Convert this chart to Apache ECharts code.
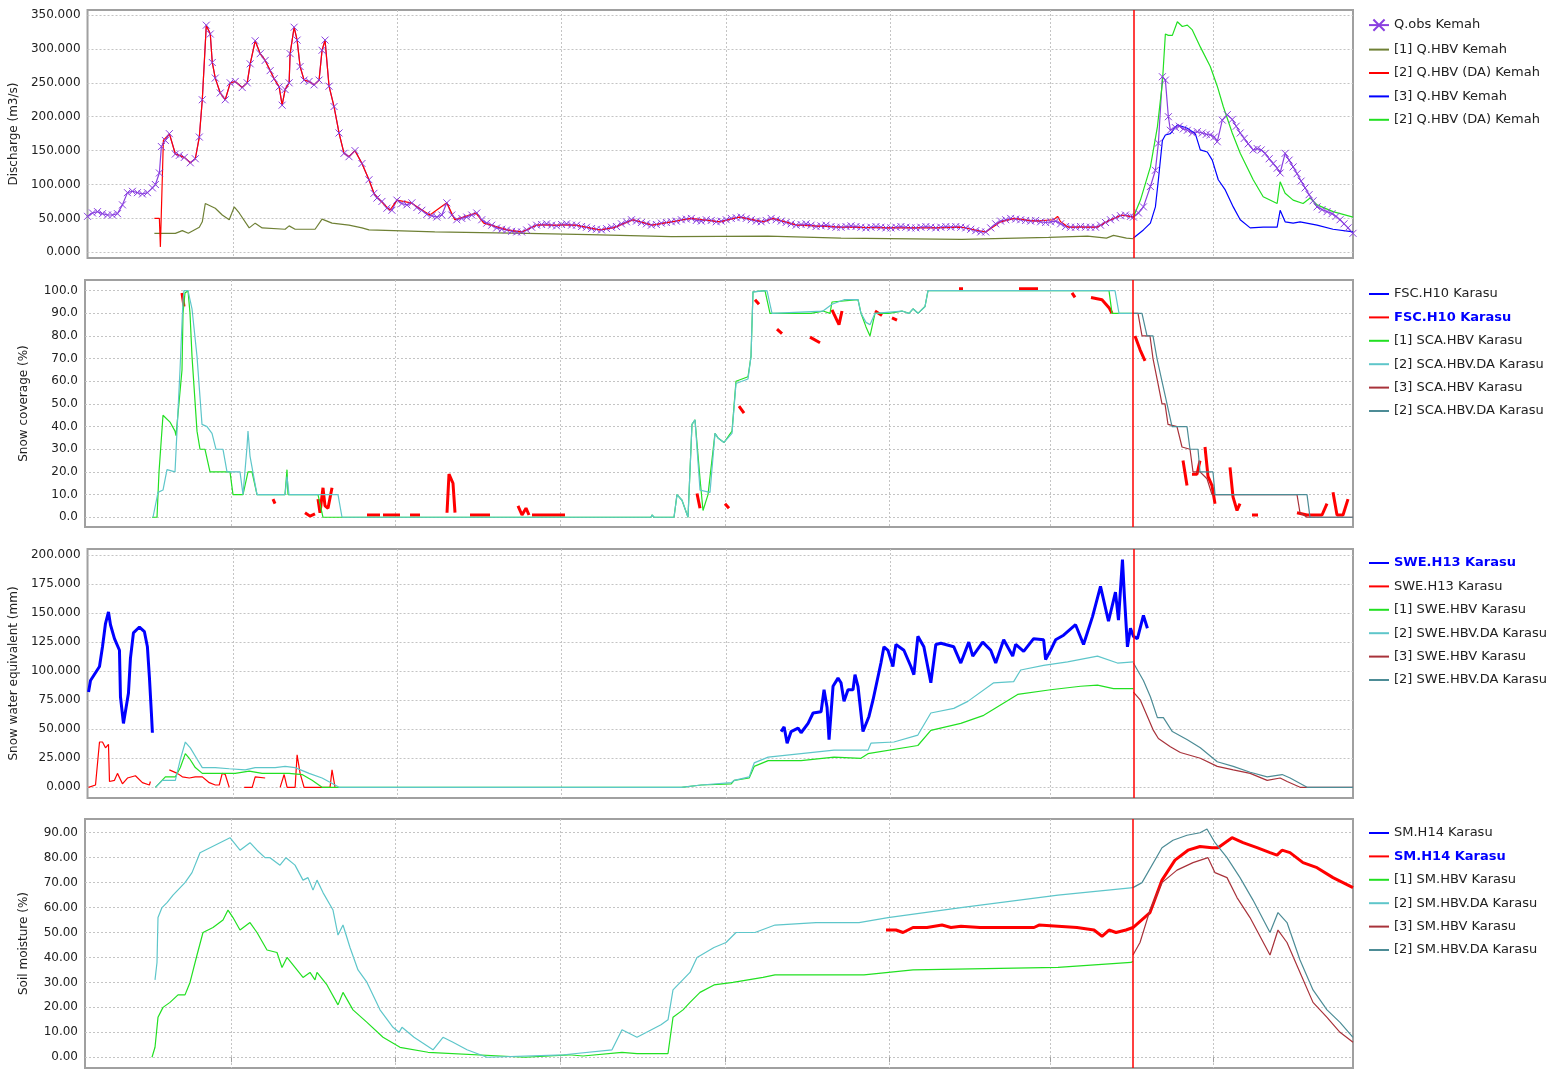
<!DOCTYPE html>
<html>
<head>
<meta charset="utf-8">
<script src="https://cdn.jsdelivr.net/npm/echarts@6/dist/echarts.min.js"></script>
<style>
html, body { margin: 0; padding: 0; background: #fff; }
#chart { width: 1550px; height: 1073px; }
</style>
</head>
<body>
<div id="chart"></div>
<script>
// time axis: day index of the season, month boundaries and forecast start
var dayMin = 17, dayMax = 270.6;
var monthTicks = [46.2, 79, 112, 145, 177.8, 210, 242.6];
var forecastDay = 226.6;

// ---- panel 1 : discharge (m3/s) ----
var qObs = [[17,53],[18,58],[19,60],[20,57],[21,55],[22,55],[23,57],[24,70],[25,88],[26,90],[27,88],[28,86],[29,88],[30,95],[30.6,100],[31.4,117],[31.8,156],[32.6,165],[33.4,175],[34.6,145],[35.4,143],[36.4,140],[37.6,132],[38.6,138],[39.4,170],[40,225],[40.8,335],[41.6,322],[42,280],[42.6,257],[43.6,235],[44.6,225],[45.6,250],[46.6,252],[48,243],[49,250],[49.6,278],[50.6,312],[51.6,293],[52.6,283],[53.6,268],[54.4,256],[55.4,244],[56,217],[56.6,240],[57.4,250],[57.6,293],[58.4,332],[59,313],[59.6,274],[60.4,254],[61.4,252],[62.4,247],[63.4,254],[64,298],[64.6,313],[65.4,245],[66.4,215],[67.4,176],[68.4,146],[69.4,141],[70.6,150],[72,131],[73.4,107],[74.4,87],[75,80],
  [76,75],[77,65],[78,62],[79,77],[80,72],[81,70],[82,73],[83,66],[84,62],[85,56],[86,54],[87,52],[88,55],[89,73],[90,55],[91,48],[92,50],[93,52],[94,55],[95,58],[96,48],[97,43],[98,40],[99,36],[100,34],[101,33],[102,31],[103,30],[104,30],[105,33],[106,37],[107,40],[108,41],[109,42],[110,40],[111,39],[112,41],[113,42],[114,40],[115,40],[116,38],[117,37],[118,35],[119,34],[120,33],[121,35],[122,37],[123,38],[124,42],[125,45],[126,48],[127,46],[128,44],[129,42],[130,40],[131,41],[132,43],[133,44],[134,45],[135,46],[136,48],[137,49],[138,50],[139,47],[140,46],[141,48],[142,47],[143,45],[144,46],[145,48],[146,50],[147,51],[148,52],[149,50],[150,48],[151,46],[152,45],[153,47],[154,50],[155,48],[156,46],[157,44],[158,42],[159,40],[160,41],[161,42],[162,40],[163,38],[164,39],[165,40],[166,38],[167,37],[168,37],[169,38],[170,39],[171,38],[172,37],[173,36],[174,37],[175,38],[176,37],[177,36],[178,36],[179,37],[180,38],[181,37],[182,36],[183,36],[184,37],[185,38],[186,37],[187,36],[188,37],[189,38],[190,37],[191,38],[192,37],[193,36],[194,34],[195,32],[196,30],[197,30],[198,36],[199,42],[200,46],[201,48],[202,50],[203,49],[204,48],[205,47],[206,46],[207,47],[208,45],[209,44],[210,45],[211,46],[212,42],[213,38],[214,37],[215,37],[216,38],[217,37],[218,37],[219,37],[220,40],[221,44],[222,48],[223,51],[224,54],[225,55],[226,53],
  [226.6,52],[227.6,58],[228.6,67],[230,97],[231,121],[231.6,161],[232.4,259],[233,254],[233.6,200],[234,180],[235,184],[235.8,186],[236.6,182],[237.4,180],[238.4,176],[239.4,178],[240.4,176],[241.2,174],[242,173],[242.8,170],[243.4,163],[244.4,195],[245.4,203],[246.4,196],[247.2,186],[248,176],[248.8,168],[249.6,160],[250.6,151],[251.4,153],[252.2,151],[253,146],[253.8,138],[254.6,131],[255.4,124],[256,117],[257,146],[257.8,136],[258.6,126],[259.4,116],[260.2,105],[261,95],[261.8,85],[262.6,76],[263.4,67],[264.4,63],[265.4,60],[266.4,57],[267.2,53],[268,48],[268.8,42],[269.6,36],[270.6,28]];
var qHbv1 = [[30.4,28],[34.6,28],[36,32],[37.2,28],[39.4,37],[40,45],[40.6,72],[42.6,65],[44,55],[45.4,48],[46.4,67],[47.4,58],[49.4,36],[50.6,43],[52,36],[56.6,34],[57.4,39],[58.6,34],[62.6,34],[64,49],[66,43],[69.4,40],[72,36],[73.4,33],[86.6,30],[105,28],[117.6,26],[134,23],[153.4,24],[168,21],[192.2,19],[209.6,22],[217.4,24],[221.2,21],[222.6,25],[225.2,21],[226.6,20]];
var qHbvDa = [[30.4,50],[31.4,50],[31.6,8],[32.2,165],[33.4,175],[34.6,145],[36.4,140],[37.6,132],[38.6,138],[39.4,170],[40,225],[40.8,335],[41.6,322],[42,280],[42.6,257],[43.6,235],[44.6,225],[45.6,250],[46.6,252],[48,243],[49,250],[49.6,278],[50.6,312],[51.6,293],[52.6,283],[53.6,268],[54.4,256],[55.4,244],[56,217],[56.6,240],[57.4,250],[57.6,293],[58.4,332],[59,313],[59.6,274],[60.4,254],[61.4,252],[62.4,247],[63.4,254],[64,298],[64.6,313],[65.4,245],[66.4,215],[67.4,176],[68.4,146],[69.4,141],[70.6,150],[72,131],[73.4,107],[74.4,87],[75.6,77],[77.6,62],[79,77],[81.8,73],[85.6,55],[89,73],[90.6,48],[94.8,58],[96.4,43],[101.2,33],[104,30],[107,40],[114.8,40],[119.6,33],[122.4,36],[126.4,48],[130.2,40],[134,45],[138,50],[143.8,45],[147.6,52],[152.6,45],[154.4,50],[159.2,40],[168,37],[177.6,36],[187.4,36],[192.2,37],[197,30],[200,45],[202.8,50],[206.8,46],[210.6,48],[211.4,53],[212,45],[213.6,37],[219.4,37],[221.2,45],[224.2,55],[226.6,52]];
var qHbv3 = [[226.6,21],[228.6,33],[230,43],[231,67],[231.6,107],[232.4,165],[233,173],[234,175],[235.4,188],[237.4,183],[239,175],[240,151],[241.4,148],[242.4,136],[243.6,107],[245,92],[246.6,67],[248,48],[250,36],[252.6,37],[255.4,37],[256,62],[257,45],[258.6,43],[260,45],[263.4,40],[266.6,34],[270.6,30]];
var qHbvDa2 = [[226.6,52],[228,77],[230,126],[231.4,185],[232.4,250],[233,322],[233.6,320],[234.4,320],[235.4,340],[236.4,333],[237.4,335],[238.4,328],[240,303],[242,274],[243.4,245],[244.6,215],[246.4,176],[248,146],[250.6,107],[252.6,82],[255.4,72],[256,104],[257,87],[258.6,77],[260.6,72],[262,80],[263.4,70],[266.6,60],[270.6,52]];

// ---- panel 2 : snow coverage (%) ----
var fscObs = [
  [[36.4,99],[36.8,93]],
  [[54.6,8],[55,6]],
  [[61,2],[62,0.5],[63,1.5]],
  [[63.6,8],[64,2],[64.6,13],[65,5],[65.6,4],[66.4,13]],
  [[73.4,1],[76,1]], [[76.6,1],[80,1]], [[82,1],[84,1]],
  [[89.4,2],[89.8,19],[90.6,15],[91,2]],
  [[94,1],[98,1]],
  [[103.6,5],[104.4,1],[105.2,4],[105.8,1]],
  [[106.4,1],[113,1]],
  [[139.4,10.5],[140,4]],
  [[145,6],[145.8,4]],
  [[147.8,49],[148.8,46]],
  [[151,96],[151.8,94]],
  [[155.4,83],[156.4,81]],
  [[162,79.5],[164,77]],
  [[166.4,91.5],[167.8,85],[168.4,91]],
  [[175,91],[176.4,89]],
  [[178.4,88],[179.4,87]],
  [[191.8,100.8],[192.6,100.8]],
  [[203.8,100.8],[207.6,100.8]],
  [[214.4,99],[215,97]],
  [[218.2,97],[220.4,96],[221.8,92.5],[222.4,90]],
  [[227,80],[228,74],[229,69]],
  [[236.6,25],[237.4,14]],
  [[238.4,19],[239.4,19],[240,25]],
  [[241,31],[241.6,18],[242.4,14],[243,6]],
  [[246,22],[246.6,9],[247.4,3],[248,6]],
  [[250.4,1],[251.6,1]],
  [[259.4,2],[261.4,1],[264.4,1],[265.4,6]],
  [[266.6,11],[267.4,1],[268.6,1],[269.6,8]]
];
var sca1 = [[30.4,0],[31.4,0],[31.8,20],[32.6,45],[34,42],[35,38],[35.2,36],[36.4,65],[36.6,90],[37,99],[37.6,100],[38,90],[38.4,71],[39.4,38],[40,30],[41,30],[42,20],[46,20],[46.6,10],[48.6,10],[49.6,20],[50.4,20],[51.4,10],[57,10],[57.4,21],[57.6,10],[63.6,10],[64.6,0],[130.2,0],[130.4,1],[130.8,0],[134.8,0],[135.4,10],[136.4,7.5],[137.6,0],[138,0],[138.4,41],[139,43],[140,17],[140.6,3],[141.6,10],[143,37],[143.6,35],[144.8,33],[146.4,38],[147.2,60],[149.6,62],[150.2,71],[150.6,99.5],[153,100],[154,90],[162.2,90],[164.6,91],[166,90],[166.4,95],[171.6,96],[172.2,90],[173.2,84],[174,80],[175,90],[177.8,90],[180.4,91],[181.8,90],[182.6,92],[183.6,90],[185,93],[185.6,100],[221.8,100],[222.4,90],[226.6,90]];
var sca2 = [[30.6,0],[31.6,11],[32.6,12],[33.4,21],[35,20],[35.4,38],[36,65],[36.6,96],[36.8,100],[37.6,100],[38.4,92],[39.4,71],[40.4,41],[41.4,40],[42.4,37],[43.2,30],[44.6,30],[45.4,20],[48,20],[48.6,10],[49,10],[49.4,31],[49.6,38],[50,27],[51.4,10],[57,10],[57.4,18],[57.8,10],[67.6,10],[68.4,0],[130.2,0],[130.4,1],[130.8,0],[134.8,0],[135.4,10],[136.4,7.5],[137.6,0],[138,0],[138.4,41],[139,43],[140,12],[142,11],[143,37],[143.6,35],[144.8,33],[146.4,37],[147.2,59],[149.6,61],[150.2,71],[150.6,99.5],[153.4,100],[154.4,90],[164.6,91],[166.4,94],[168.8,96],[171.6,96],[172.2,90],[173.2,86],[174,85],[175,90],[180.4,91],[181.8,90],[182.6,92],[183.6,90],[185,93],[185.6,100],[223,100],[223.8,90],[226.6,90]];
var sca3 = [[226.6,90],[227.6,90],[228.4,80],[230,80],[230.6,70],[231.6,59],[232.4,50],[233,50],[233.6,41],[235.4,40],[236.4,31],[238,30],[238.6,20],[240,20],[241.4,17],[242.4,10],[259.4,10],[260,2],[261.4,0],[270.6,0]];
var sca2b = [[226.6,90],[228.4,90],[229.4,80],[230.6,80],[231.4,70],[232.4,60],[233.4,50],[234.4,40],[237.4,40],[238,30],[239.6,30],[240,20],[242.6,20],[243,10],[261.4,10],[262,0],[270.6,0]];

// ---- panel 3 : snow water equivalent (mm) ----
var sweObs = [
  [[17.2,82],[17.6,92],[19.4,104],[20,121],[20.6,141],[21.2,151],[21.6,140],[22.4,128],[23.4,118],[23.6,78],[24.2,55],[24.6,55],[25.2,81],[25.6,111],[26.2,133],[27.4,138],[28.4,134],[29,121],[29.4,95],[29.8,64],[30,47]],
  [[156,48],[156.6,52],[157.2,38],[158,48],[159.4,51],[160,47],[161.4,55],[162.4,64],[164,65],[164.6,84],[165.2,69],[165.6,41],[166.4,87],[167.4,94],[168,90],[168.6,74],[169.4,84],[170.4,84],[170.8,97],[171.4,87],[172.4,48],[173.6,61],[174.4,75],[176,107],[176.6,121],[177.4,118],[178.4,104],[179,123],[180.6,118],[182,104],[182.6,97],[183.4,130],[184.6,121],[186,90],[187,123],[188,124],[190.6,121],[192,107],[193.6,125],[194.4,113],[196.4,125],[198,118],[199,107],[200.6,127],[202.4,113],[203,123],[204.6,117],[206.6,128],[208.6,127],[209,110],[210,118],[211,127],[212.6,131],[215,140],[216.6,123],[218.4,147],[220,173],[221.6,143],[223,168],[223.6,144],[224.4,196],[224.8,164],[225.4,121],[226,137],[226.6,130],[227.4,128],[228.6,148],[229.4,137]]
];
var sweObs2 = [
  [[17.2,0],[18.6,2],[19.4,39],[20,39],[20.6,34],[21.2,37],[21.4,5],[22.4,6],[23,12],[24,3],[25,8],[26.6,10],[28,4],[29.4,2],[29.6,5]],
  [[33.4,15],[35,12],[36,9],[37.4,8],[38.6,9],[40,9],[41.4,4],[42.6,2],[43.4,2],[44,12],[44.6,11],[45.4,0]],
  [[48.4,0],[50,0],[50.6,9],[52.6,8]],
  [[55.6,0],[56.4,11],[57,0],[58.6,0],[59,28],[59.6,12],[60.4,0],[65.6,0],[66,15],[66.6,0]]
];
var swe1 = [[30.6,0],[32.6,9],[34.6,9],[35.6,17],[36.6,29],[37.4,25],[38.6,17],[40,12],[42.6,12],[46.6,12],[49.4,14],[52,12],[57.4,12],[60,11],[62,6],[64,0],[136,0],[140,2],[146,3],[146.6,6],[149.6,8],[150.6,18],[153.4,23],[160,23],[166.6,26],[172,25],[173.4,29],[183.4,36],[186,49],[192,55],[196.6,62],[203.4,80],[210,84],[216,87],[219.4,88],[222.6,85],[226.6,85]];
var swe2 = [[30.6,0],[32,6],[34.6,6],[35.6,24],[36.6,39],[37.6,34],[39,24],[40,17],[42.6,17],[45.4,16],[48.6,15],[50.6,17],[54.6,17],[56.6,18],[58.6,17],[61.4,12],[64,8],[66.6,2],[67.4,0],[136,0],[140,2],[146,4],[146.6,6],[149.6,9],[150.6,21],[153.4,26],[160,29],[166.6,32],[173.4,32],[174,38],[178.6,39],[183.4,45],[186,64],[190.6,68],[193.4,74],[198.6,90],[202.6,91],[204,101],[208.6,105],[213.4,108],[219.4,113],[223.4,107],[226.6,108]];
var swe3 = [[226.6,82],[228,75],[229.4,61],[230.6,49],[231.6,42],[234,35],[236,30],[240,25],[243.4,18],[246.6,15],[250,12],[253.4,6],[256,8],[257.4,5],[260,0],[270.6,0]];
var swe2b = [[226.6,107],[228.6,92],[230,78],[231.4,60],[232.6,60],[234.4,48],[237.4,41],[240,34],[243.4,22],[246.6,18],[250,13],[253.4,9],[256.4,11],[258,8],[261.4,0],[270.6,0]];

// ---- panel 4 : soil moisture (%) ----
var smObs = [[177.2,51],[179.2,51],[180.6,50],[182.6,52],[185.4,52],[188.4,53],[190.2,52],[192.2,52.5],[196,52],[198,52],[201,52],[206.8,52],[207.8,53],[211.6,52.5],[215.4,52],[218.8,51],[220.4,48.5],[221.8,51],[223.2,50],[225.2,51],[226.6,52],[230,58],[232.4,71],[235,79],[237.6,83],[240,84.5],[242.4,84],[243.6,84],[246.4,88],[248.6,86],[251.4,84],[254,82],[255.4,81],[256.4,83],[258,82],[260.6,78],[263.4,76],[266.6,72],[270.6,68]];
var sm1 = [[30.4,0],[31,4],[31.6,16],[32.6,20],[34,22],[35.6,25],[37,25],[38,30],[39.4,41],[40.6,50],[42.6,52],[44.6,55],[45.6,59],[46.6,56],[48,51],[50,54],[51.4,50],[53.4,43],[55.4,42],[56.4,36],[57.4,40],[58.6,37],[60.6,32],[62,34],[63,31],[63.4,34],[65.4,29],[67.6,21],[68.6,26],[70.6,19],[73.4,14],[76.6,8],[80,4],[85.6,2],[105,0],[113.8,1],[116.6,0.5],[124.4,2],[127.4,1.5],[133.6,1.5],[134.6,16],[136.6,19],[138,22],[140,26],[142.8,29],[146.6,30],[152.6,32],[155,33],[172.8,33],[182.6,35],[211.6,36],[226.2,38],[226.6,38.5]];
var sm2 = [[31,31],[31.4,38],[31.6,56],[32.4,60],[33.4,62],[34.6,65],[37,70],[38.4,74],[40,82],[42,84],[44,86],[46,88],[48,83],[50,86],[51.4,83],[53,80],[54,80],[56,77],[57.2,80],[59,77],[60.6,71],[61.6,72],[62.6,67],[63.4,71],[64.6,66],[66.6,59],[67.6,49],[68.6,53],[70,44],[71.6,35],[73.4,30],[76,19],[78.6,12],[79.8,10],[80.4,12],[82.8,8],[86.6,3],[88.6,8],[90.6,6],[93.4,3],[97.4,0],[112.8,1],[122.4,3],[124.4,11],[127.4,8],[132.2,13],[133.6,15],[134.6,27],[138,34],[139.4,40],[142.8,44],[145.2,46],[147.2,50],[151,50],[155,53],[163.2,54],[171.8,54],[177.6,56],[192.2,60],[211.6,65],[226.6,68]];
var sm3 = [[226.6,41],[228,46],[230,59],[232.4,70],[235.4,75],[238.6,78],[241.6,80],[243,74],[245.4,72],[247.4,64],[250,56],[254,41],[255.6,51],[257.4,46],[260,34],[262.6,22],[265.4,16],[268,10],[270.6,6]];
var sm2b = [[226.6,68],[228.4,70],[232.4,84],[234.6,87],[237.4,89],[240,90],[241.4,91.5],[243,86],[245.4,80],[248,72],[250.6,63],[254,50],[255.6,58],[257.4,54],[260,39],[262.6,27],[265.4,19],[268,14],[270.6,8]];

// y axes: range, tick labels, decimals
var yNames = ['Discharge (m3/s)', 'Snow coverage (%)', 'Snow water equivalent (mm)', 'Soil moisture (%)'];
var yMin = [-8.4, -4.3, -9.2, -4.3];
var yMax = [357.4, 104.7, 205.2, 95.5];
var yTicks = [
  [0, 50, 100, 150, 200, 250, 300, 350],
  [0, 10, 20, 30, 40, 50, 60, 70, 80, 90, 100],
  [0, 25, 50, 75, 100, 125, 150, 175, 200],
  [0, 10, 20, 30, 40, 50, 60, 70, 80, 90]
];
var yDecimals = [3, 1, 3, 2];

var dom = document.getElementById('chart');
var chart = echarts.init(dom);
var font = 'DejaVu Sans';
var gridTops = [10, 280, 549, 819];
var gridHeights = [248, 247, 249, 249];
var legendTops = [17, 287, 556, 826];

var PURPLE = '#8a3fe0', OLIVE = '#6f8035', RED = '#ff0000', BLUE = '#0000ff',
    GREEN = '#22e022', CYAN = '#5ec6ca', DARKRED = '#a8323a', TEAL = '#4d8c96';

function joinSegs(segs) {
  var out = [];
  segs.forEach(function (s, i) {
    if (i > 0) out.push([s[0][0], '-']);
    out = out.concat(s);
  });
  return out;
}

function line(name, data, color, gi, width) {
  return {
    name: name, type: 'line', xAxisIndex: gi, yAxisIndex: gi,
    data: data, symbol: 'none', connectNulls: false,
    lineStyle: { color: color, width: width || 1.2 },
    itemStyle: { color: color },
    animation: false
  };
}

function redLine(s) {
  s.markLine = {
    silent: true, symbol: 'none', animation: false,
    label: { show: false },
    lineStyle: { color: RED, width: 1.5, type: 'solid' },
    data: [{ xAxis: forecastDay }]
  };
  return s;
}

var Z = '\u200b'; // keeps duplicated legend names apart

var qObsSeries = line('Q.obs Kemah', qObs, PURPLE, 0, 1.2);
qObsSeries.symbol = 'path://M0,0L10,10M10,0L0,10';
qObsSeries.symbolSize = 7;
qObsSeries.showSymbol = true;
qObsSeries.itemStyle = { color: 'none', borderColor: PURPLE, borderWidth: 1 };

var series = [
  qObsSeries,
  line('[1] Q.HBV Kemah', qHbv1, OLIVE, 0),
  line('[2] Q.HBV (DA) Kemah', qHbvDa, RED, 0),
  line('[3] Q.HBV Kemah', qHbv3, BLUE, 0),
  redLine(line('[2] Q.HBV (DA) Kemah' + Z, qHbvDa2, GREEN, 0)),

  line('FSC.H10 Karasu', [], BLUE, 1),
  line('FSC.H10 Karasu' + Z, joinSegs(fscObs), RED, 1, 3),
  line('[1] SCA.HBV Karasu', sca1, GREEN, 1),
  line('[2] SCA.HBV.DA Karasu', sca2, CYAN, 1),
  line('[3] SCA.HBV Karasu', sca3, DARKRED, 1),
  redLine(line('[2] SCA.HBV.DA Karasu' + Z, sca2b, TEAL, 1)),

  line('SWE.H13 Karasu', joinSegs(sweObs), BLUE, 2, 3),
  line('SWE.H13 Karasu' + Z, joinSegs(sweObs2), RED, 2),
  line('[1] SWE.HBV Karasu', swe1, GREEN, 2),
  line('[2] SWE.HBV.DA Karasu', swe2, CYAN, 2),
  line('[3] SWE.HBV Karasu', swe3, DARKRED, 2),
  redLine(line('[2] SWE.HBV.DA Karasu' + Z, swe2b, TEAL, 2)),

  line('SM.H14 Karasu', [], BLUE, 3),
  line('SM.H14 Karasu' + Z, smObs, RED, 3, 3),
  line('[1] SM.HBV Karasu', sm1, GREEN, 3),
  line('[2] SM.HBV.DA Karasu', sm2, CYAN, 3),
  line('[3] SM.HBV Karasu', sm3, DARKRED, 3),
  redLine(line('[2] SM.HBV.DA Karasu' + Z, sm2b, TEAL, 3))
];

var bold = { fontWeight: 'bold', color: '#0000ff' };
var legendData = [
  [{ name: 'Q.obs Kemah', itemStyle: { opacity: 1 } }, '[1] Q.HBV Kemah', '[2] Q.HBV (DA) Kemah', '[3] Q.HBV Kemah', '[2] Q.HBV (DA) Kemah' + Z],
  ['FSC.H10 Karasu', { name: 'FSC.H10 Karasu' + Z, textStyle: bold }, '[1] SCA.HBV Karasu', '[2] SCA.HBV.DA Karasu', '[3] SCA.HBV Karasu', '[2] SCA.HBV.DA Karasu' + Z],
  [{ name: 'SWE.H13 Karasu', textStyle: bold }, 'SWE.H13 Karasu' + Z, '[1] SWE.HBV Karasu', '[2] SWE.HBV.DA Karasu', '[3] SWE.HBV Karasu', '[2] SWE.HBV.DA Karasu' + Z],
  ['SM.H14 Karasu', { name: 'SM.H14 Karasu' + Z, textStyle: bold }, '[1] SM.HBV Karasu', '[2] SM.HBV.DA Karasu', '[3] SM.HBV Karasu', '[2] SM.HBV.DA Karasu' + Z]
];

var grids = [], xAxes = [], yAxes = [], legends = [];
for (var i = 0; i < 4; i++) {
  grids.push({
    left: 85, right: 197, top: gridTops[i], height: gridHeights[i],
    show: true, borderColor: '#a0a0a0', borderWidth: 2, backgroundColor: '#fff'
  });
  xAxes.push({
    gridIndex: i, type: 'value', min: dayMin, max: dayMax,
    axisLine: { show: false },
    axisLabel: { show: false },
    axisTick: { show: i === 3, customValues: monthTicks, length: 5, lineStyle: { color: '#a0a0a0' } },
    splitLine: { show: true, lineStyle: { color: '#c4c4c4', type: [2, 2], width: 1 } }
  });
  (function (d) {
    yAxes.push({
      gridIndex: i, type: 'value', min: yMin[i], max: yMax[i],
      name: yNames[i], nameLocation: 'middle', nameGap: 55, nameRotate: 90,
      nameTextStyle: { fontFamily: font, fontSize: 12, color: '#222' },
      axisLine: { show: false },
      axisTick: { show: false, customValues: yTicks[i] },
      axisLabel: {
        customValues: yTicks[i], fontFamily: font, fontSize: 12, color: '#222', margin: 7,
        formatter: function (v) { return Number(v).toFixed(d); }
      },
      splitLine: { show: true, lineStyle: { color: '#c4c4c4', type: [2, 2], width: 1 } }
    });
  })(yDecimals[i]);
  legends.push({
    orient: 'vertical', left: 1368, top: legendTops[i], padding: 0,
    itemWidth: 20, itemHeight: 14, itemGap: 9.4,
    selectedMode: false,
    itemStyle: { opacity: 0 },
    textStyle: { fontFamily: font, fontSize: 13, color: '#222', lineHeight: 14 },
    data: legendData[i]
  });
}

var option = {
  animation: false,
  backgroundColor: '#fff',
  grid: grids,
  xAxis: xAxes,
  yAxis: yAxes,
  legend: legends,
  series: series
};

if (option && typeof option === 'object') {
  chart.setOption(option, true);
}
</script>
</body>
</html>
